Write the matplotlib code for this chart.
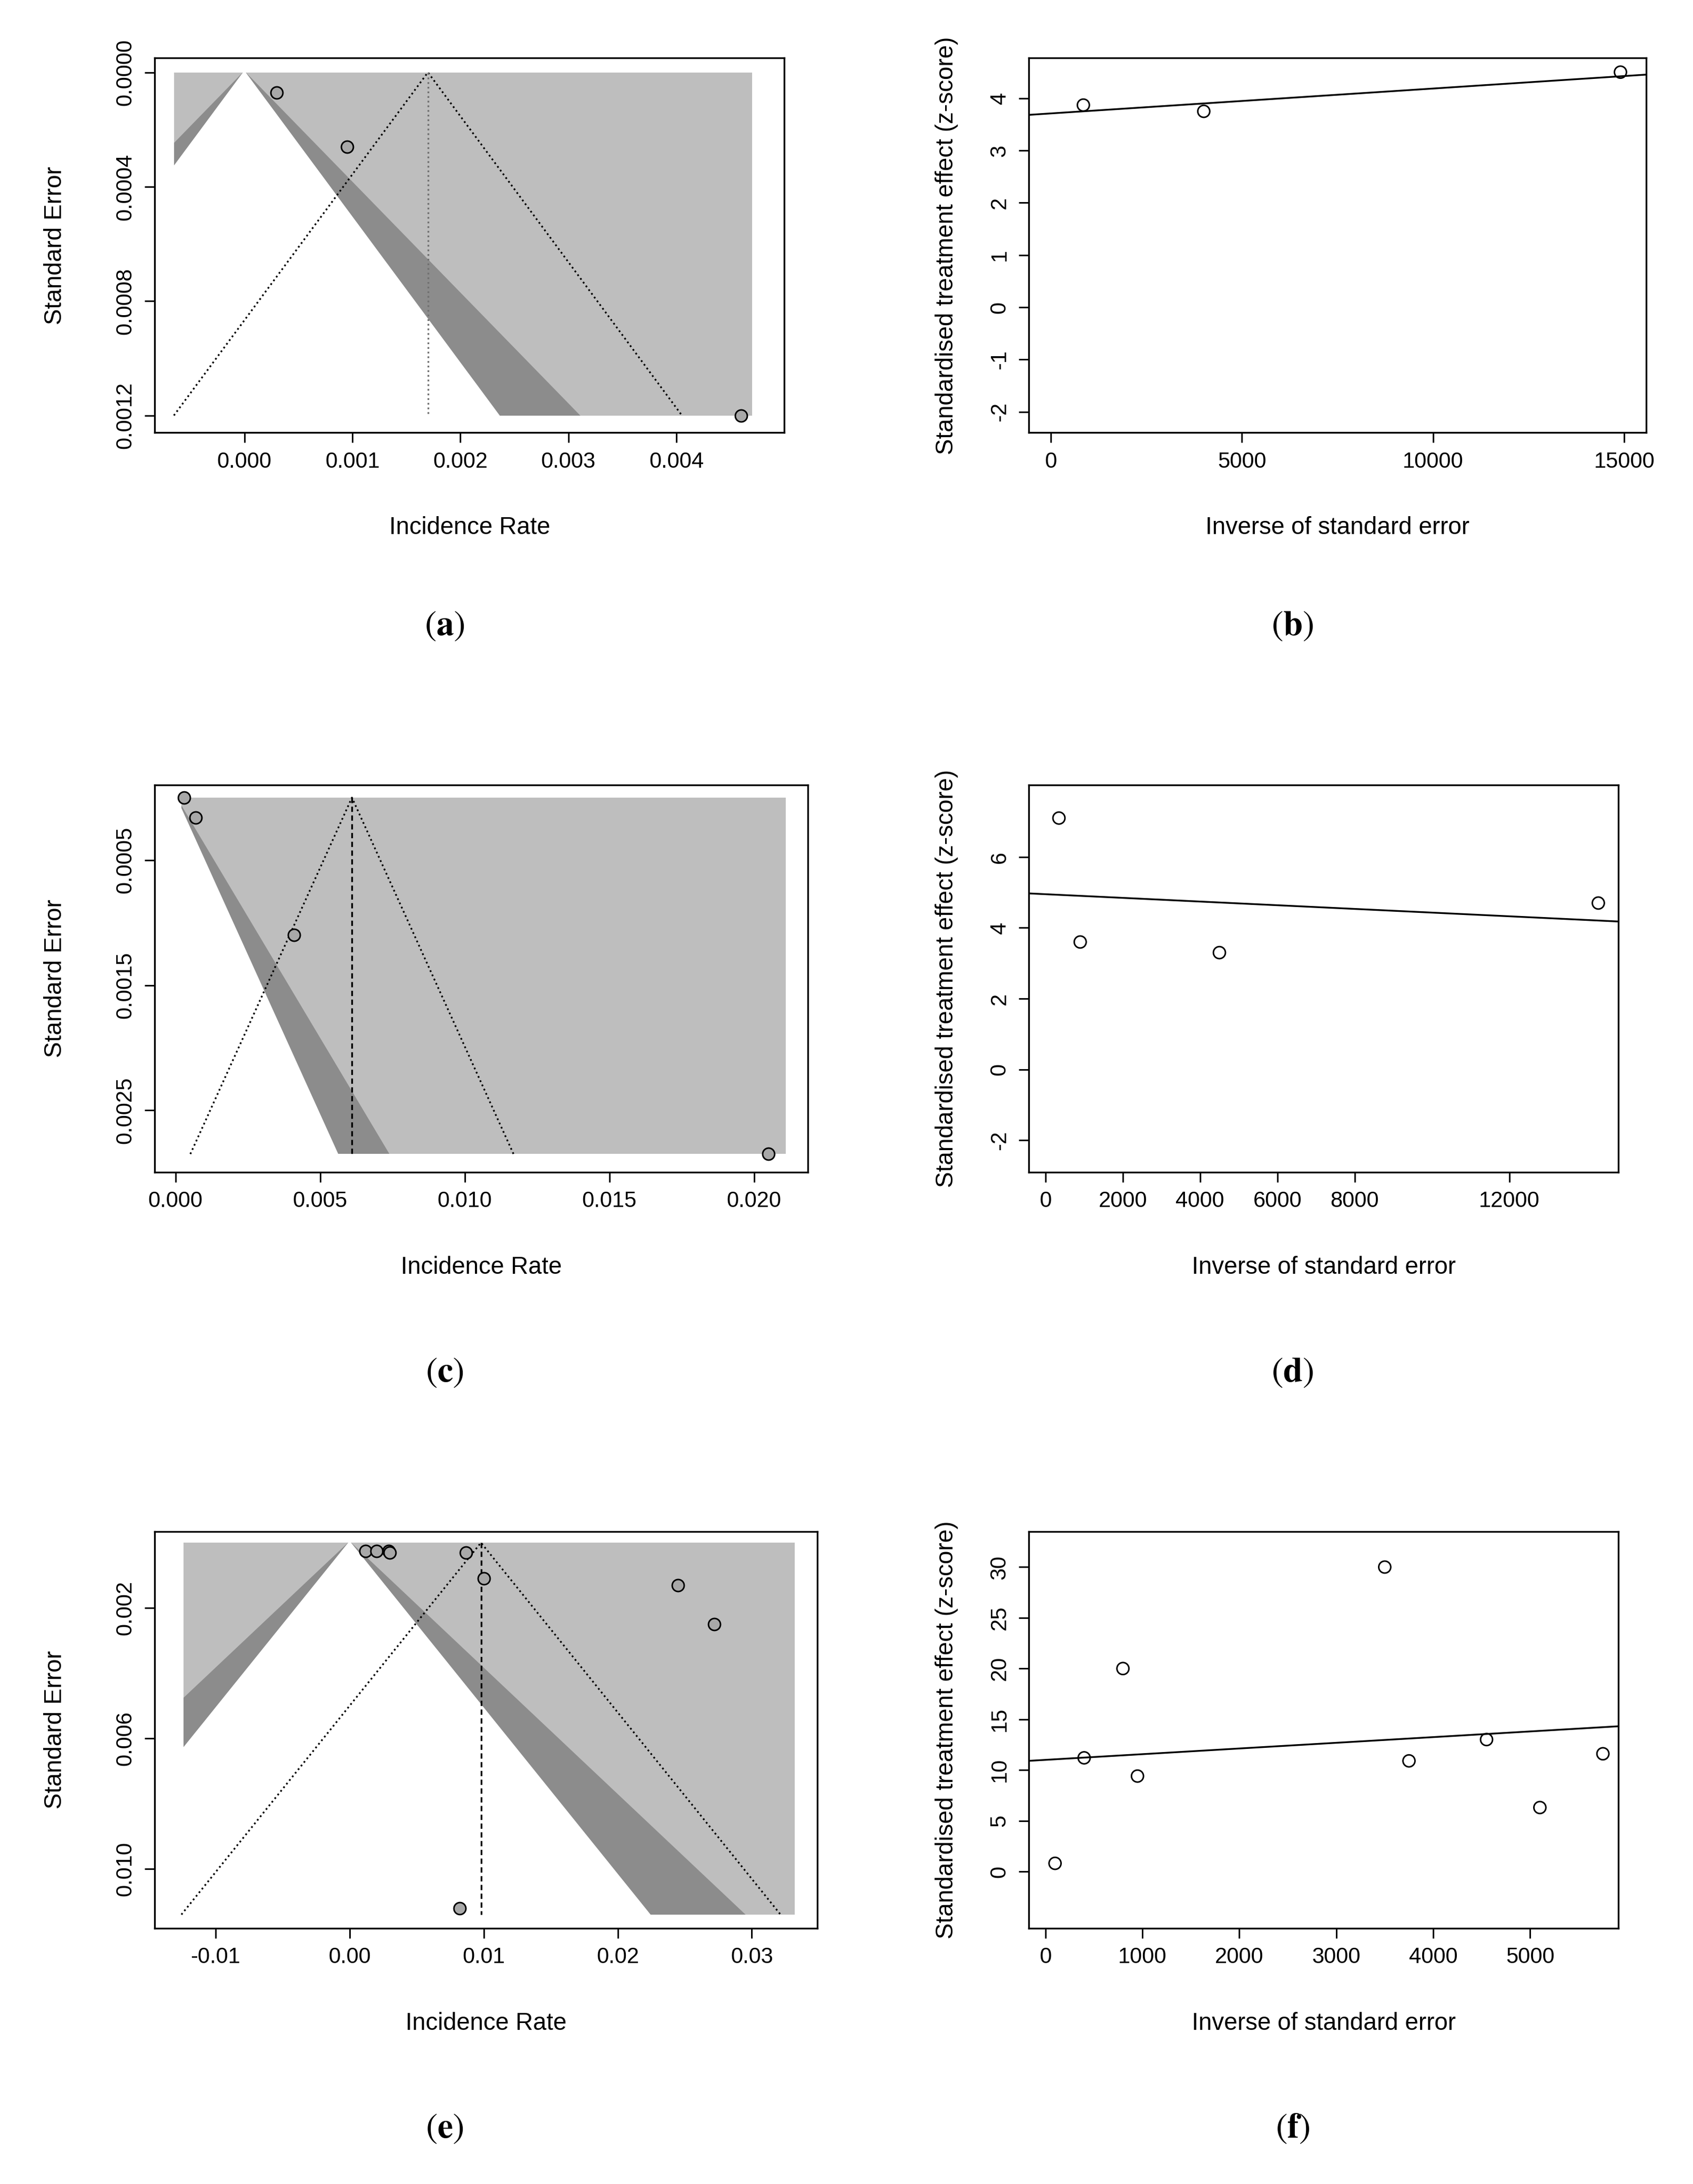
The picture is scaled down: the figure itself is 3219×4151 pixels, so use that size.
import matplotlib
matplotlib.use("Agg")
import matplotlib.pyplot as plt
import matplotlib.patches as mpatches
import numpy as np

plt.rcParams["font.family"] = "Liberation Sans"
plt.rcParams["mathtext.fontset"] = "stix"
plt.rcParams["axes.unicode_minus"] = False

# ---- data ----
# funnel plots: (incidence rate, standard error)
a_rate = [0.0003, 0.00095, 0.0046]
a_se = [0.00007, 0.00026, 0.0012]
c_rate = [0.0003, 0.0007, 0.0041, 0.0205]
c_se = [0.00000, 0.00016, 0.0011, 0.00285]
e_rate = [0.0012, 0.0020, 0.0029, 0.0030, 0.0087, 0.0100, 0.0245, 0.0272, 0.0082]
e_se = [0.00025, 0.00025, 0.00025, 0.0003, 0.0003, 0.0011, 0.0013, 0.0025, 0.0112]

# radial (Galbraith) plots: (inverse SE, z-score)
b_inv = [850, 4000, 14900]
b_z = [3.87, 3.75, 4.5]
d_inv = [350, 900, 4500, 14300]
d_z = [7.1, 3.6, 3.3, 4.7]
f_inv = [100, 400, 800, 950, 3500, 3750, 4550, 5100, 5750]
f_z = [0.8, 11.2, 20.0, 9.4, 30.0, 10.9, 13.0, 6.3, 11.6]

# fitted lines (intercept, slope)
b_fit = (3.71, 4.77e-5)
d_fit = (4.95, -5.2e-5)
f_fit = (11.0, 5.6e-4)

# funnel settings: rectangle (xmin, xmax, semax), pooled estimate
a_funnel = (-0.00065, 0.0047, 0.0012, 0.0017)
c_funnel = (0.0002, 0.0211, 0.00285, 0.0061)
e_funnel = (-0.0124, 0.0332, 0.0114, 0.0098)

LIGHT = "#BEBEBE"
DARK = "#8C8C8C"

fig = plt.figure(figsize=(3219 / 300, 4151 / 300), dpi=300)
W, H = 1226, 1580


def make_ax(x0, x1, y0, y1):
    return fig.add_axes([x0 / W, 1 - y1 / H, (x1 - x0) / W, (y1 - y0) / H])


def style(ax):
    for s in ax.spines.values():
        s.set_linewidth(0.8)
    ax.tick_params(direction="out", length=4.5, width=0.7, labelsize=10, pad=4)
    ax.tick_params(axis="y", labelrotation=90)
    for t in ax.get_yticklabels():
        t.set_va("center")


def funnel(ax, rate, se, setup, vstyle, vcolor):
    xmin, xmax, semax, pooled = setup
    rect = mpatches.Rectangle((xmin, 0), xmax - xmin, semax, facecolor=LIGHT,
                              edgecolor="none", zorder=1)
    ax.add_patch(rect)
    for k, col in ((2.58, DARK), (1.96, "white")):
        tri = ax.fill([-k * semax * 2, 0, k * semax * 2], [semax * 2, 0, semax * 2],
                      color=col, zorder=2)[0]
        tri.set_clip_path(rect)
    ax.plot([pooled - 1.96 * semax, pooled, pooled + 1.96 * semax], [semax, 0, semax],
            ls=":", color="black", lw=0.8, zorder=3)
    ax.plot([pooled, pooled], [0, semax], ls=vstyle, color=vcolor, lw=0.8, zorder=3)
    ax.scatter(rate, se, s=30, facecolor="#A8A8A8", edgecolor="black", linewidth=0.7, zorder=4)
    ax.set_xlabel("Incidence Rate", fontsize=11, labelpad=20)
    ax.set_ylabel("Standard Error", fontsize=11, labelpad=22)


def radial(ax, inv, z, fit):
    ax.scatter(inv, z, s=30, facecolor="none", edgecolor="black", linewidth=0.7, zorder=3)
    xl = ax.get_xlim()
    xs = np.array(xl)
    ax.plot(xs, fit[0] + fit[1] * xs, color="black", lw=0.8)
    ax.set_xlim(xl)
    ax.set_xlabel("Inverse of standard error", fontsize=11, labelpad=20)
    ax.set_ylabel("Standardised treatment effect (z-score)", fontsize=11, labelpad=14)


# (a)
ax = make_ax(112, 568, 42, 313)
ax.set_xlim(-0.00083, 0.0050)
ax.set_ylim(0.00126, -0.00005)
funnel(ax, a_rate, a_se, a_funnel, ":", "#707070")
ax.set_xticks([0, 0.001, 0.002, 0.003, 0.004])
ax.set_xticklabels(["0.000", "0.001", "0.002", "0.003", "0.004"])
ax.set_yticks([0, 0.0004, 0.0008, 0.0012])
ax.set_yticklabels(["0.0000", "0.0004", "0.0008", "0.0012"])
style(ax)

# (b)
ax = make_ax(745, 1192, 42, 313)
ax.set_xlim(-578, 15570)
ax.set_ylim(-2.4, 4.77)
radial(ax, b_inv, b_z, b_fit)
ax.set_xticks([0, 5000, 10000, 15000])
ax.set_yticks([-2, -1, 0, 1, 2, 3, 4])
style(ax)

# (c)
ax = make_ax(112, 585, 568, 848)
ax.set_xlim(-0.00072, 0.02186)
ax.set_ylim(0.002995, -0.0001)
funnel(ax, c_rate, c_se, c_funnel, (0, (3, 2)), "black")
ax.set_xticks([0, 0.005, 0.01, 0.015, 0.02])
ax.set_xticklabels(["0.000", "0.005", "0.010", "0.015", "0.020"])
ax.set_yticks([0.0005, 0.0015, 0.0025])
ax.set_yticklabels(["0.0005", "0.0015", "0.0025"])
style(ax)

# (d)
ax = make_ax(745, 1172, 568, 848)
ax.set_xlim(-430, 14820)
ax.set_ylim(-2.9, 8.03)
radial(ax, d_inv, d_z, d_fit)
ax.set_xticks([0, 2000, 4000, 6000, 8000, 12000])
ax.set_yticks([-2, 0, 2, 4, 6])
style(ax)

# (e)
ax = make_ax(112, 592, 1108, 1395)
ax.set_xlim(-0.01454, 0.0349)
ax.set_ylim(0.01182, -0.00034)
funnel(ax, e_rate, e_se, e_funnel, (0, (3, 2)), "black")
ax.set_xticks([-0.01, 0, 0.01, 0.02, 0.03])
ax.set_xticklabels(["-0.01", "0.00", "0.01", "0.02", "0.03"])
ax.set_yticks([0.002, 0.006, 0.010])
ax.set_yticklabels(["0.002", "0.006", "0.010"])
style(ax)

# (f)
ax = make_ax(745, 1172, 1108, 1395)
ax.set_xlim(-171, 5910)
ax.set_ylim(-5.6, 33.5)
radial(ax, f_inv, f_z, f_fit)
ax.set_xticks([0, 1000, 2000, 3000, 4000, 5000])
ax.set_yticks([0, 5, 10, 15, 20, 25, 30])
style(ax)

for lab, x, y in (("a", 322, 453), ("b", 936, 453), ("c", 322, 993),
                  ("d", 936, 993), ("e", 322, 1540), ("f", 936, 1540)):
    fig.text(x / W, 1 - y / H, r"$\mathrm{(}\mathbf{%s}\mathrm{)}$" % lab, fontsize=16,
             ha="center", va="center")

fig.savefig("out.png", dpi=300)
